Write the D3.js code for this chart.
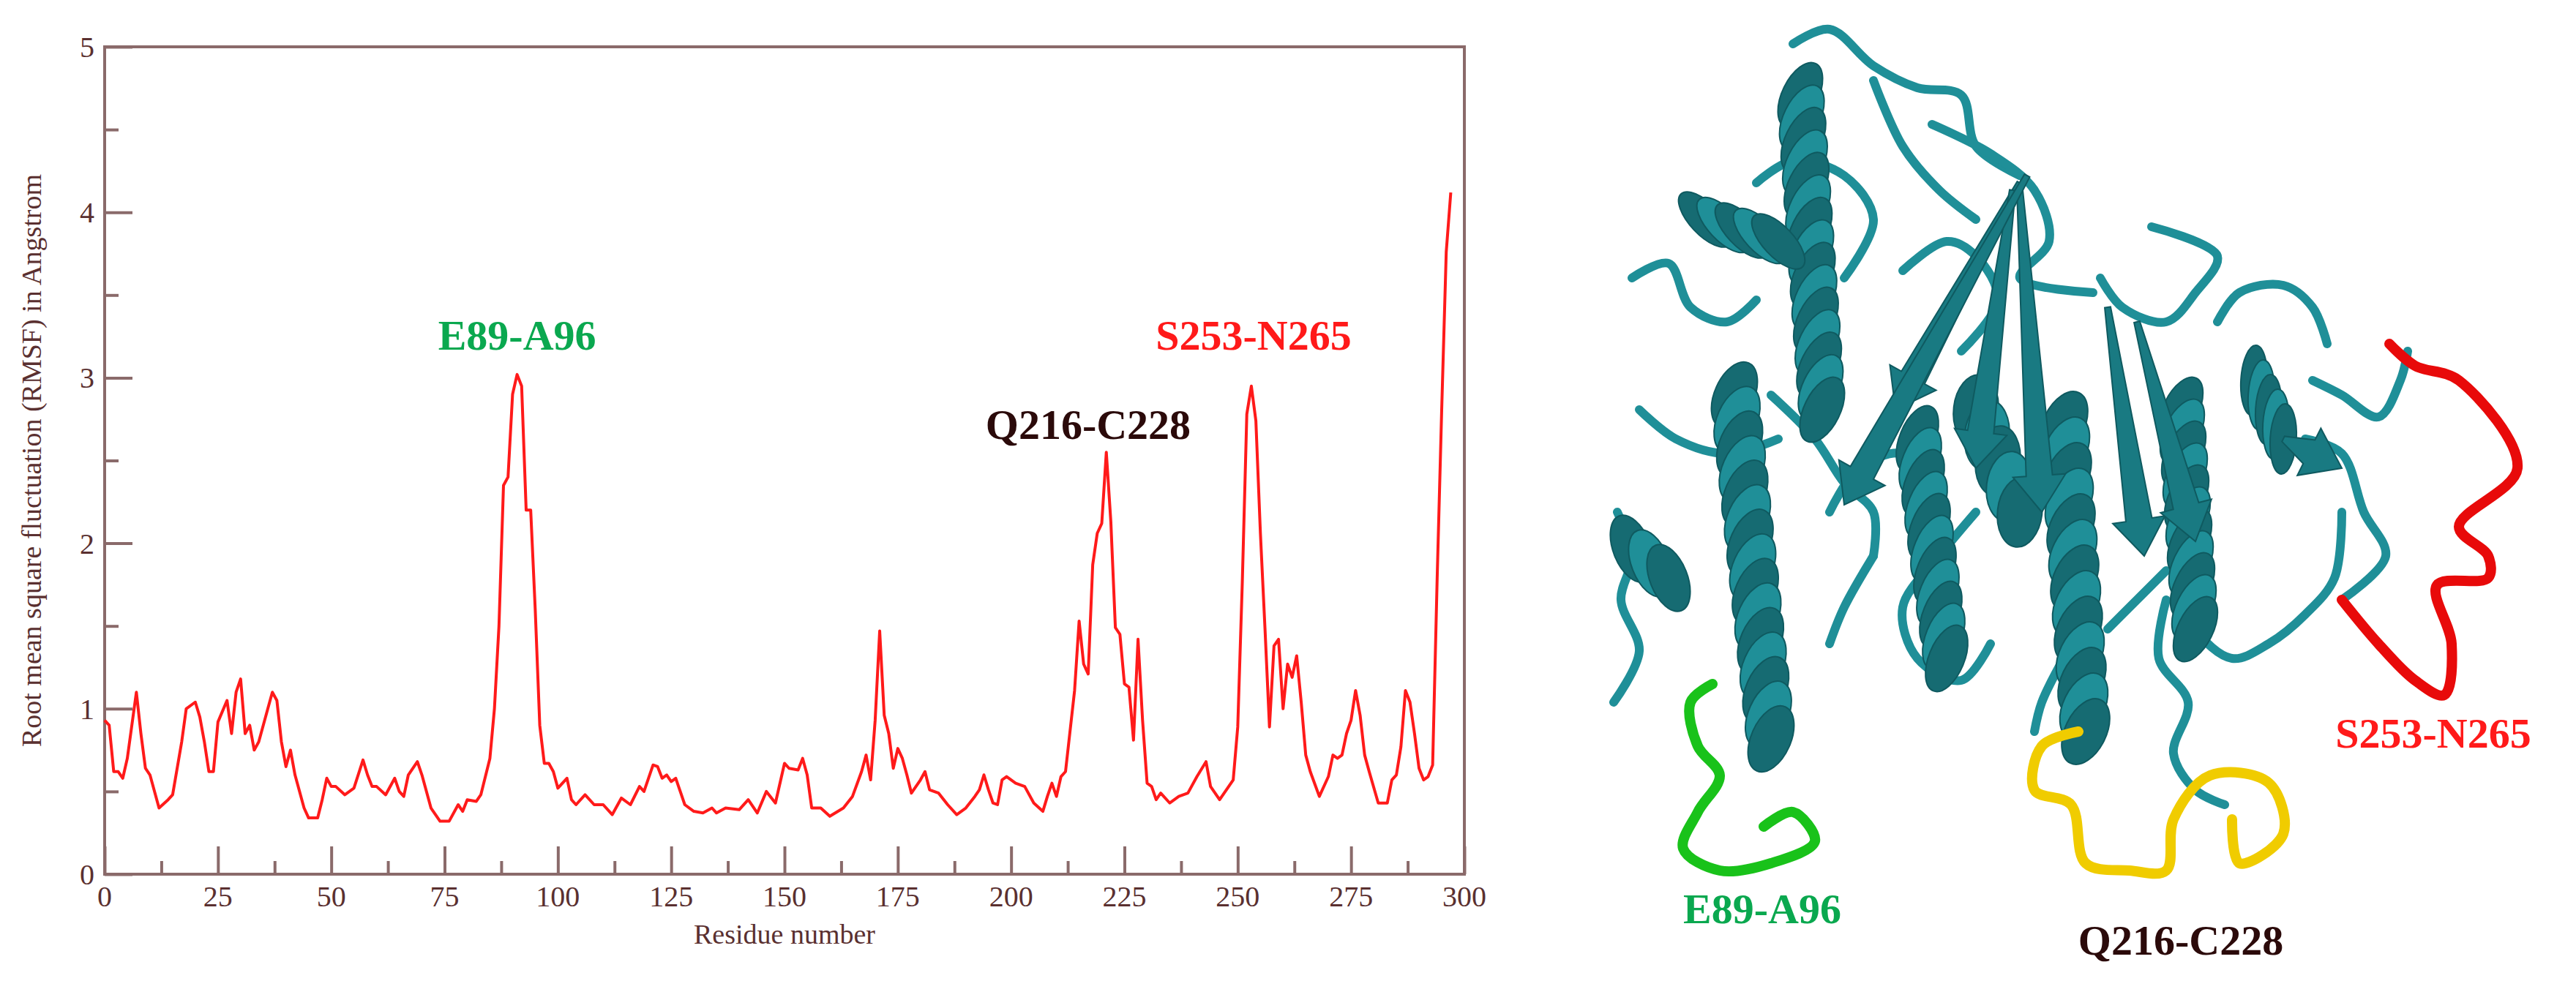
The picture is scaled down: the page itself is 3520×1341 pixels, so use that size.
<!DOCTYPE html>
<html>
<head>
<meta charset="utf-8">
<script src="https://cdn.jsdelivr.net/npm/d3@7"></script>
<style>
  body { margin: 0; background: #fff; }
  svg text { font-family: "Liberation Serif", "DejaVu Serif", serif; }
</style>
</head>
<body>
<div class="chart"></div>
<script>
const W = 3520, H = 1341;
const m = { top: 64, right: W - 2001, bottom: H - 1195, left: 143 };

// residue number / RMSF (Angstrom)
const residues = [0,1,2,3,4,5,7,8,9,10,12,14,15,17,18,20,21,22,23,24,25,27,28,29,30,31,32,33,34,36,37,38,39,40,41,42,44,45,47,48,49,50,51,53,55,57,58,59,60,62,64,65,66,67,69,70,72,74,76,78,79,80,82,83,85,86,87,88,89,90,91,92,93,94,95,96,97,98,99,100,102,103,104,106,108,110,112,114,116,118,119,121,122,123,124,125,126,127,128,130,132,134,135,137,140,142,144,146,148,150,151,153,154,155,156,158,160,163,165,167,168,169,170,171,172,173,174,175,176,177,178,180,181,182,184,186,188,190,192,193,194,195,196,197,198,199,201,203,205,207,208,209,210,211,212,214,215,216,217,218,219,220,221,222,223,224,225,226,227,228,229,230,231,232,233,235,237,239,241,243,244,246,248,249,250,251,252,253,254,255,256,257,258,259,260,261,262,263,264,265,266,268,270,271,272,273,274,275,276,277,278,279,281,283,284,285,286,287,288,289,290,291,292,293,294,295,296,297];
const rmsf = [0.93,0.9,0.62,0.62,0.58,0.7,1.1,0.85,0.64,0.6,0.4,0.45,0.48,0.8,1.0,1.04,0.95,0.8,0.62,0.62,0.92,1.05,0.85,1.1,1.18,0.85,0.9,0.75,0.8,1.0,1.1,1.05,0.8,0.65,0.75,0.6,0.4,0.34,0.34,0.45,0.58,0.53,0.53,0.48,0.52,0.69,0.6,0.53,0.53,0.48,0.58,0.5,0.47,0.6,0.68,0.6,0.4,0.32,0.32,0.42,0.38,0.45,0.44,0.48,0.7,1.0,1.5,2.35,2.4,2.9,3.02,2.95,2.2,2.2,1.6,0.9,0.67,0.67,0.62,0.52,0.58,0.45,0.42,0.48,0.42,0.42,0.36,0.46,0.42,0.53,0.5,0.66,0.65,0.58,0.6,0.56,0.58,0.5,0.42,0.38,0.37,0.4,0.37,0.4,0.39,0.45,0.37,0.5,0.43,0.67,0.64,0.63,0.7,0.6,0.4,0.4,0.35,0.4,0.47,0.62,0.72,0.57,0.93,1.47,0.96,0.85,0.64,0.76,0.7,0.6,0.49,0.57,0.62,0.51,0.49,0.42,0.36,0.4,0.47,0.51,0.6,0.51,0.43,0.42,0.57,0.59,0.55,0.53,0.43,0.38,0.47,0.55,0.47,0.59,0.62,1.11,1.53,1.27,1.21,1.87,2.06,2.12,2.55,2.13,1.49,1.45,1.15,1.13,0.81,1.42,0.93,0.55,0.53,0.45,0.49,0.43,0.47,0.49,0.59,0.68,0.53,0.45,0.53,0.57,0.89,1.76,2.78,2.95,2.74,2.06,1.49,0.89,1.38,1.42,1.0,1.27,1.19,1.32,1.04,0.72,0.62,0.47,0.59,0.72,0.7,0.72,0.85,0.93,1.11,0.96,0.72,0.62,0.43,0.43,0.57,0.6,0.77,1.11,1.04,0.85,0.64,0.57,0.59,0.66,1.79,2.81,3.76,4.12];

const xMajor = [0,25,50,75,100,125,150,175,200,225,250,275,300];
const yMajor = [0,1,2,3,4,5];

// peak annotations: label, residue centre, value baseline, colour
const peakLabels = ["E89-A96", "Q216-C228", "S253-N265"];
const peakX = [91, 217, 253.5];
const peakY = [3.17, 2.63, 3.17];
const peakColors = ["#0aa84f", "#2b0a0a", "#ff1a1a"];

const svg = d3.select(".chart").append("svg").attr("width", W).attr("height", H);

const x = d3.scaleLinear().domain([0, 300]).range([m.left, W - m.right]);
const y = d3.scaleLinear().domain([0, 5]).range([H - m.bottom, m.top]);

const axisCol = "#8a6a6a", textCol = "#5a3030";

// frame
svg.append("rect")
    .attr("x", x(0)).attr("y", y(5))
    .attr("width", x(300) - x(0)).attr("height", y(0) - y(5))
    .attr("fill", "none").attr("stroke", axisCol).attr("stroke-width", 4);

// inward ticks
const xa = svg.append("g").attr("transform", `translate(0,${y(0)})`)
    .call(d3.axisBottom(x).tickValues(d3.range(0, 301, 12.5)).tickSize(-18).tickFormat(""));
xa.selectAll(".tick line").attr("stroke", axisCol).attr("stroke-width", 4)
    .filter(d => d % 25 === 0).attr("y2", -38);
xa.select(".domain").remove();
const ya = svg.append("g").attr("transform", `translate(${x(0)},0)`)
    .call(d3.axisLeft(y).tickValues(d3.range(0, 5.01, 0.5)).tickSize(-19).tickFormat(""));
ya.selectAll(".tick line").attr("stroke", axisCol).attr("stroke-width", 4)
    .filter(d => Number.isInteger(d)).attr("x2", 38);
ya.select(".domain").remove();

// tick labels
svg.selectAll(".xl").data(xMajor).join("text")
    .attr("x", d => x(d)).attr("y", y(0) + 44)
    .attr("text-anchor", "middle").attr("font-size", 40).attr("fill", textCol)
    .text(d => d);
svg.selectAll(".yl").data(yMajor).join("text")
    .attr("x", x(0) - 14).attr("y", d => y(d) + 14)
    .attr("text-anchor", "end").attr("font-size", 40).attr("fill", textCol)
    .text(d => d);

svg.append("text").attr("x", x(150)).attr("y", 1290)
    .attr("text-anchor", "middle").attr("font-size", 38).attr("fill", textCol)
    .text("Residue number");
svg.append("text").attr("transform", `translate(56,${y(2.5)}) rotate(-90)`)
    .attr("text-anchor", "middle").attr("font-size", 38).attr("fill", textCol)
    .text("Root mean square fluctuation (RMSF) in Angstrom");

// line
const pts = residues.map((r, i) => [r, rmsf[i]]);
svg.append("path").datum(pts)
    .attr("fill", "none").attr("stroke", "#ff1a1a").attr("stroke-width", 4)
    .attr("stroke-linejoin", "round")
    .attr("d", d3.line().x(d => x(d[0])).y(d => y(d[1])));

svg.selectAll(".pk").data(peakLabels).join("text")
    .attr("x", (d, i) => x(peakX[i])).attr("y", (d, i) => y(peakY[i]))
    .attr("text-anchor", "middle").attr("font-size", 58).attr("font-weight", "bold")
    .attr("fill", (d, i) => peakColors[i])
    .text(d => d);

// ---- stylised protein cartoon on the right ----
const g = svg.append("g");
const teal = "#1f8f98", tealDark = "#166b72";
const curve = d3.line().curve(d3.curveCatmullRom);

const loops = [
  [[2210,700],[2230,760],[2215,820],[2240,890],[2205,960]],
  [[2230,380],[2280,360],[2310,420],[2360,440],[2400,410]],
  [[2450,60],[2500,40],[2560,90],[2620,120],[2680,130],[2700,200],[2760,240]],
  [[2640,170],[2720,210],[2780,260],[2800,330],[2760,380],[2860,400]],
  [[2560,110],[2600,200],[2650,260],[2700,300]],
  [[2870,380],[2900,420],[2960,440],[3000,400],[3030,350],[2940,310]],
  [[2600,370],[2660,330],[2700,350],[2730,410],[2680,480]],
  [[3030,440],[3060,400],[3120,390],[3160,420],[3180,470]],
  [[3160,520],[3200,540],[3250,570],[3280,520],[3290,480]],
  [[2700,700],[2650,760],[2600,830],[2620,900],[2680,930],[2720,880]],
  [[2560,760],[2520,830],[2500,880]],
  [[2980,800],[3000,860],[3050,900],[3100,880],[3150,840],[3190,790],[3200,700]],
  [[2960,820],[2950,900],[2990,960],[2970,1030],[3000,1080],[3040,1100]],
  [[2820,900],[2790,960],[2780,1000]],
  [[2240,560],[2290,600],[2360,620],[2430,600]],
  [[2400,250],[2450,220],[2520,240],[2560,300],[2520,380]],
  [[2500,700],[2540,640],[2600,620],[2640,660]],
  [[3150,600],[3200,620],[3230,700],[3260,760],[3200,820]],
  [[2880,860],[2920,820],[2960,780]],
  [[2420,540],[2480,600],[2520,660],[2560,700],[2560,760]]
];
g.selectAll(".loop").data(loops).join("path")
    .attr("d", d => curve(d)).attr("fill", "none")
    .attr("stroke", teal).attr("stroke-width", 12).attr("stroke-linecap", "round");

// helices: [x0,y0,x1,y1,turns]
const helices = [
  [2460,130,2490,560,7],[2370,540,2420,1010,7],[2330,300,2430,330,2],
  [2620,600,2660,900,5],[2820,580,2850,1000,6],[2980,560,3000,860,5],
  [3080,520,3120,600,2],[2230,750,2280,790,1],[2700,560,2760,700,2]
];
helices.forEach(h => {
  const n = h[4] * 2;
  const seg = d3.range(n + 1).map(i => i / n);
  const ang = Math.atan2(h[3] - h[1], h[2] - h[0]) * 180 / Math.PI;
  const len = Math.hypot(h[2] - h[0], h[3] - h[1]);
  g.selectAll(null).data(seg).join("ellipse")
    .attr("cx", t => h[0] + t * (h[2] - h[0]))
    .attr("cy", t => h[1] + t * (h[3] - h[1]))
    .attr("rx", len / n * 0.8).attr("ry", 48)
    .attr("transform", t => `rotate(${ang - 60},${h[0] + t * (h[2] - h[0])},${h[1] + t * (h[3] - h[1])})`)
    .attr("fill", (t, i) => i % 2 ? teal : tealDark)
    .attr("stroke", "#0f5a60").attr("stroke-width", 2);
});

// beta strands (arrows)
const strands = [
  [[2760,250],[2590,560]],[[2750,260],[2700,640]],[[2760,260],[2790,700]],
  [[2880,420],[2930,760]],[[3120,600],[3200,640]],[[2770,240],[2520,690]],
  [[2920,440],[3000,740]]
];
strands.forEach(s => {
  const [a, b] = s;
  const ang = Math.atan2(b[1] - a[1], b[0] - a[0]);
  const nx = -Math.sin(ang), ny = Math.cos(ang);
  const hw = 18, ah = 36, hl = 50;
  const bx = b[0] - Math.cos(ang) * hl, by = b[1] - Math.sin(ang) * hl;
  const p = [[a[0] + nx * 4, a[1] + ny * 4], [bx + nx * hw, by + ny * hw], [bx + nx * ah, by + ny * ah],
             b, [bx - nx * ah, by - ny * ah], [bx - nx * hw, by - ny * hw], [a[0] - nx * 4, a[1] - ny * 4]];
  g.append("path").attr("d", d3.line()(p) + "Z").attr("fill", "#197a82").attr("stroke", "#0f5a60").attr("stroke-width", 2);
});

// highlighted loops
const green = [[2340,935],[2310,960],[2320,1020],[2350,1060],[2320,1110],[2300,1160],[2350,1190],[2420,1180],[2480,1150],[2450,1110],[2410,1130]];
const yellow = [[2840,1000],[2790,1020],[2780,1080],[2830,1100],[2850,1180],[2910,1190],[2960,1190],[2970,1120],[3020,1060],[3100,1070],[3120,1140],[3060,1180],[3050,1120]];
const red = [[3265,470],[3300,500],[3360,520],[3440,640],[3360,720],[3400,760],[3400,790],[3330,800],[3350,880],[3340,950],[3300,930],[3250,880],[3200,820]];
[[green, "#19c21a"], [yellow, "#f0cc00"], [red, "#e80a0a"]].forEach(([p, c]) => {
  g.append("path").attr("d", curve(p)).attr("fill", "none")
    .attr("stroke", c).attr("stroke-width", 14).attr("stroke-linecap", "round");
});

const sideX = [2408, 2980, 3325], sideY = [1262, 1305, 1022];
svg.selectAll(".sl").data(peakLabels).join("text")
    .attr("x", (d, i) => sideX[i]).attr("y", (d, i) => sideY[i])
    .attr("text-anchor", "middle").attr("font-size", 58).attr("font-weight", "bold")
    .attr("fill", (d, i) => peakColors[i])
    .text(d => d);
</script>
</body>
</html>
